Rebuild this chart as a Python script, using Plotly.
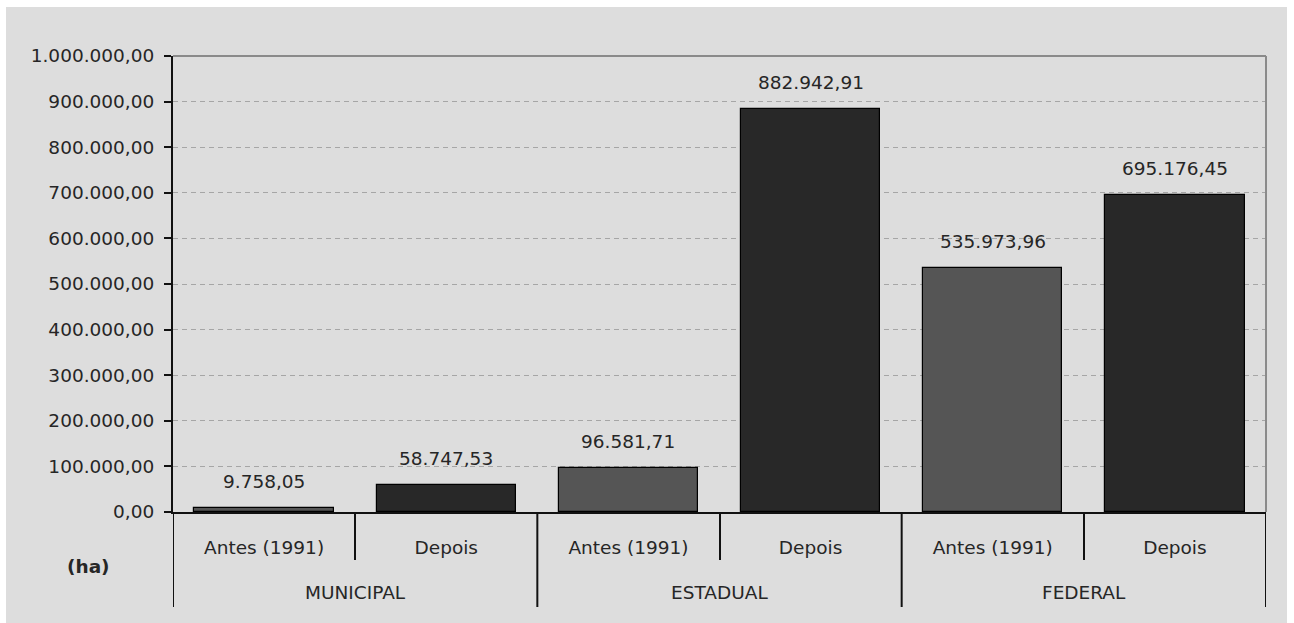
import plotly.graph_objects as go

# Protected area (ha) before (1991) and after, by administrative sphere
groups = ["MUNICIPAL", "ESTADUAL", "FEDERAL"]
periods = ["Antes (1991)", "Depois"]
antes = [9758.05, 96581.71, 535973.96]
depois = [58747.53, 882942.91, 695176.45]
y_ticks = [0, 100000, 200000, 300000, 400000, 500000, 600000, 700000, 800000, 900000, 1000000]

COLOR_ANTES = "#555555"
COLOR_DEPOIS = "#282828"
FONT = "DejaVu Sans"
FS = 18.5
TEXT = "#262626"

W, H = 1294, 623
ML, MR, MT, MB = 173, 28, 56, 111
PW, PH = W - ML - MR, H - MT - MB


def px_x(p):
    return (p - ML) / PW


def px_y(p):
    return (H - MB - p) / PH


def fmt(v):
    s = f"{v:,.2f}"
    return s.replace(",", "X").replace(".", ",").replace("X", ".")


xs, vals, cols = [], [], []
for i in range(len(groups)):
    for j, arr in enumerate((antes, depois)):
        xs.append(2 * i + j)
        vals.append(arr[i])
        cols.append(COLOR_ANTES if j == 0 else COLOR_DEPOIS)

fig = go.Figure()
fig.add_trace(go.Bar(
    x=xs, y=vals, width=0.765,
    marker=dict(color=cols, line=dict(color="#000000", width=1.2)),
    hoverinfo="skip", showlegend=False,
))

annotations = []
for x, v in zip(xs, vals):
    annotations.append(dict(
        x=x, y=v, xref="x", yref="y", text=fmt(v), showarrow=False,
        yanchor="bottom", yshift=14, font=dict(family=FONT, size=FS, color=TEXT),
    ))
for i, g in enumerate(groups):
    annotations.append(dict(
        x=2 * i + 0.5, y=px_y(592), xref="x", yref="paper", text=g, showarrow=False,
        yanchor="middle", font=dict(family=FONT, size=FS, color=TEXT),
    ))
annotations.append(dict(
    x=px_x(88), y=px_y(566), xref="paper", yref="paper", text="<b>(ha)</b>",
    showarrow=False, xanchor="center", yanchor="middle",
    font=dict(family=FONT, size=FS, color=TEXT),
))

shapes = [
    # outer panel
    dict(type="rect", xref="paper", yref="paper", x0=px_x(6), x1=px_x(1287),
         y0=px_y(623), y1=px_y(7), fillcolor="#dddddd", line=dict(width=0), layer="below"),
    # top and right frame of the plot area
    dict(type="line", xref="paper", yref="paper", x0=0, x1=1, y0=1, y1=1,
         line=dict(color="#8a8a8a", width=2)),
    dict(type="line", xref="paper", yref="paper", x0=1, x1=1, y0=0, y1=1,
         line=dict(color="#8a8a8a", width=2)),
]
# group dividers below the axis
for b in [-0.5, 1.5, 3.5, 5.5]:
    shapes.append(dict(type="line", xref="x", yref="paper", x0=b, x1=b,
                       y0=0, y1=px_y(607), line=dict(color="#111111", width=2)))

fig.update_layout(
    width=W, height=H,
    margin=dict(l=ML, r=MR, t=MT, b=MB),
    paper_bgcolor="#ffffff",
    plot_bgcolor="#d4d4d4",
    separators=",.",
    bargap=0,
    font=dict(family=FONT, size=FS, color=TEXT),
    annotations=annotations,
    shapes=shapes,
    xaxis=dict(
        range=[-0.5, 5.5], tickvals=xs, ticktext=periods * len(groups),
        ticks="", showgrid=False, zeroline=False,
        showline=True, linecolor="#111111", linewidth=2,
        ticklabelstandoff=18,
        tickfont=dict(family=FONT, size=FS, color=TEXT),
        minor=dict(tickvals=[0.5, 2.5, 4.5], ticks="outside", ticklen=46,
                   tickcolor="#111111", tickwidth=2, showgrid=False),
        fixedrange=True,
    ),
    yaxis=dict(
        range=[0, 1000000], tickvals=y_ticks, tickformat=",.2f",
        ticks="outside", ticklen=7, tickcolor="#111111", tickwidth=1.5,
        showline=True, linecolor="#111111", linewidth=2,
        showgrid=True, gridcolor="#a6a6a6", gridwidth=1, griddash="5px,4px",
        zeroline=False, ticklabelstandoff=6,
        tickfont=dict(family=FONT, size=FS, color=TEXT),
        fixedrange=True,
    ),
)

fig.write_html("out.html")
